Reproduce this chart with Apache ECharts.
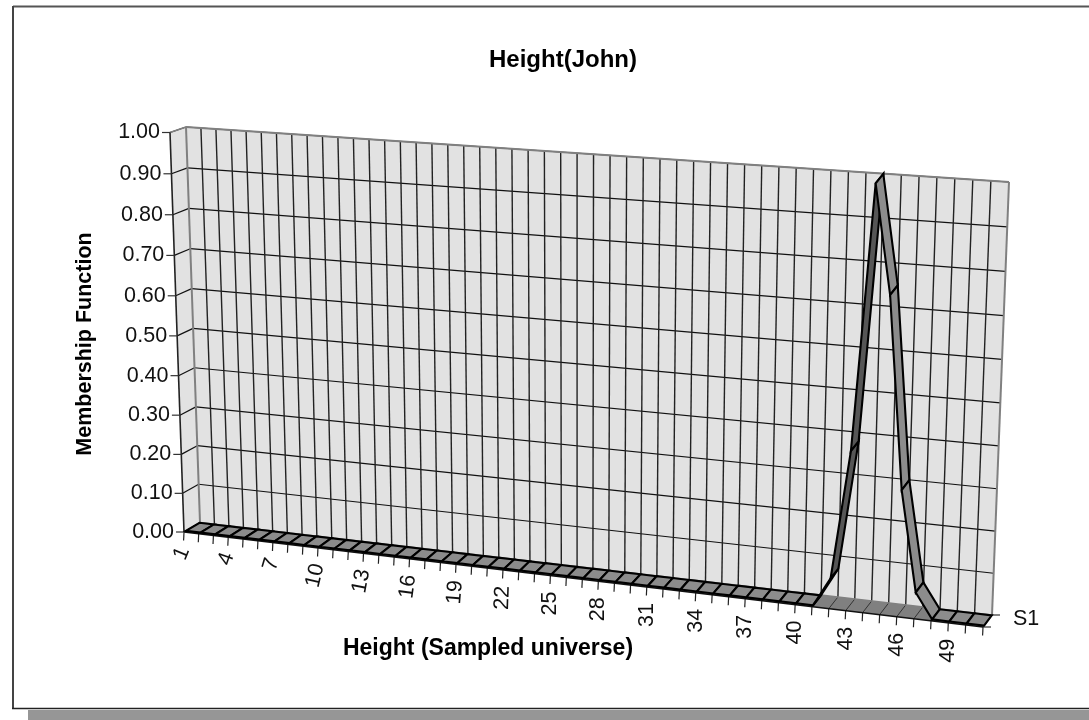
<!DOCTYPE html>
<html><head><meta charset="utf-8">
<style>html,body{margin:0;padding:0;background:#fff}#c{width:1089px;height:720px}</style>
<script src="https://cdn.jsdelivr.net/npm/echarts@6/dist/echarts.min.js"></script>
</head><body><div id="c"></div>
<script>
const categories = [];
for (let n = 1; n <= 51; n++) categories.push(n);
const labelledCategories = [1,4,7,10,13,16,19,22,25,28,31,34,37,40,43,46,49];
const membership = [0,0,0,0,0,0,0,0,0,0,0,0,0,0,0,0,0,0,0,0,0,0,0,0,0,0,0,0,0,0,0,0,0,0,0,0,0,0,0,0,0,
  0.07,0.38,1.00,0.75,0.30,0.06,0,0,0,0];
const yTicks = [0,0.1,0.2,0.3,0.4,0.5,0.6,0.7,0.8,0.9,1.0];
const seriesName = 'S1';
const chartTitle = 'Height(John)';
const xTitle = 'Height (Sampled universe)';
const yTitle = 'Membership Function';

const FONT = '"Liberation Sans", Arial, sans-serif';
// perspective of the box: unit square -> quad
function quadMap(q){
  const [x0,y0]=q[0],[x1,y1]=q[1],[x2,y2]=q[2],[x3,y3]=q[3];
  const sx=x0-x1+x2-x3, sy=y0-y1+y2-y3, dx1=x1-x2, dx2=x3-x2, dy1=y1-y2, dy2=y3-y2;
  const den=dx1*dy2-dx2*dy1, g=(sx*dy2-dx2*sy)/den, h=(dx1*sy-sx*dy1)/den;
  const a=x1-x0+g*x1, b=x3-x0+h*x3, d=y1-y0+g*y1, e=y3-y0+h*y3;
  return (u,v)=>{const w=g*u+h*v+1;return [(a*u+b*v+x0)/w,(d*u+e*v+y0)/w];};
}
const backPlane  = quadMap([[200,522.5],[992,615],[1009,182],[186,127]]);
const frontPlane = quadMap([[184,532],[983,627],[1000,194],[170,132.5]]);
const W=1089,H=720;
function proj(api,x,y,z){
  const p=api.coord([x,y]);
  const u=p[0]/W, v=1-p[1]/H;
  const f=frontPlane(u,v), b=backPlane(u,v);
  return [f[0]+(b[0]-f[0])*z, f[1]+(b[1]-f[1])*z];
}
const line=(a,b,stroke,lw)=>({type:'line',shape:{x1:a[0],y1:a[1],x2:b[0],y2:b[1]},style:{stroke,lineWidth:lw,fill:null},silent:true});
const poly=(pts,fill,stroke,lw)=>({type:'polygon',shape:{points:pts},style:{fill,stroke:stroke||fill,lineWidth:lw||0,lineJoin:'miter'},silent:true});
const xMin=categories[0], xMax=categories[categories.length-1];

function renderBox(params,api){
  const P=(x,y,z)=>proj(api,x,y,z), ch=[];
  ch.push(poly([P(xMin,0,1),P(xMax,0,1),P(xMax,1,1),P(xMin,1,1)],'#e2e2e2'));
  ch.push(poly([P(xMin,0,0),P(xMin,0,1),P(xMin,1,1),P(xMin,1,0)],'#e2e2e2'));
  ch.push(poly([P(xMin,0,0),P(xMax,0,0),P(xMax,0,1),P(xMin,0,1)],'#808080'));
  yTicks.forEach(t=>{
    if(t>0) ch.push(line(P(xMin,t,1),P(xMax,t,1),'#111',1.2));
    ch.push(line(P(xMin,t,0),P(xMin,t,1),'#111',1.2));
  });
  categories.forEach(c=>{
    if(c>xMin&&c<xMax) ch.push(line(P(c,0,1),P(c,1,1),'#222',1.4));
    ch.push(line(P(c,0,0),P(c,0,1),'#333',1));
    const a=P(c,0,0); ch.push(line(a,[a[0]-0.4,a[1]+8.5],'#222',1.2));
  });
  // outline
  ch.push(line(P(xMin,1,0),P(xMin,1,1),'#808080',1.6));
  ch.push(line(P(xMin,1,1),P(xMax,1,1),'#808080',1.8));
  ch.push(line(P(xMax,1,1),P(xMax,0,1),'#808080',2));
  ch.push(line(P(xMin,0,1),P(xMin,1,1),'#808080',2));
  ch.push(line(P(xMin,0,1),P(xMax,0,1),'#808080',1.5));
  ch.push(line(P(xMin,0,0),P(xMin,1,0),'#222',1.6));
  ch.push(line(P(xMin,0,0),P(xMax,0,0),'#111',1.6));
  ch.push(line(P(xMin,0,0),P(xMin,0,1),'#555',1));
  ch.push(line(P(xMax,0,0),P(xMax,0,1),'#333',1.2));
  yTicks.forEach(t=>{
    const a=P(xMin,t,0);
    ch.push(line(a,[a[0]-8,a[1]],'#333',1.2));
    ch.push({type:'text',style:{text:t.toFixed(2),x:a[0]-10,y:a[1],align:'right',verticalAlign:'middle',font:'21.5px '+FONT,fill:'#111'},silent:true});
  });
  const a=P(xMax,0,1), b=P(xMax,0,0);
  ch.push(line(a,[a[0]+8,a[1]],'#333',1.2));
  ch.push(line(b,[b[0]+8,b[1]],'#333',1.2));
  ch.push({type:'text',style:{text:seriesName,x:a[0]+21,y:a[1]+4,align:'left',verticalAlign:'middle',font:'21.5px '+FONT,fill:'#111'},silent:true});
  labelledCategories.forEach(c=>{
    const p=P(c,0,0), t=(c-xMin)/(xMax-xMin), deg=Math.min(90,68+48*t);
    ch.push({type:'text',x:p[0],y:p[1]+16,rotation:deg*Math.PI/180,
      style:{text:String(c),x:0,y:0,align:'right',verticalAlign:'middle',font:'21.5px '+FONT,fill:'#111'},silent:true});
  });
  return {type:'group',children:ch};
}
function renderRibbon(params,api){
  const x=api.value(0), y=api.value(1), i=params.dataIndex;
  if(i>=categories.length-1) return null;
  const x2=categories[i+1], y2=membership[i+1];
  const z0=0.12,z1=0.97;
  const pts=[proj(api,x,y,z0),proj(api,x2,y2,z0),proj(api,x2,y2,z1),proj(api,x,y,z1)];
  const fill = y2>y ? '#565656' : '#8c8c8c';
  return poly(pts,fill,'#000',2.1);
}
const chart=echarts.init(document.getElementById('c'),null,{renderer:'canvas',width:W,height:H});
chart.setOption({
  animation:false,
  backgroundColor:'#fff',
  title:{text:chartTitle,left:558,top:43,textAlign:'center',textStyle:{fontFamily:FONT,fontWeight:'bold',fontSize:24,color:'#000'}},
  grid:{left:0,right:0,top:0,bottom:0,containLabel:false},
  xAxis:{type:'value',min:xMin,max:xMax,show:false},
  yAxis:{type:'value',min:0,max:1,show:false},
  graphic:[
    {type:'rect',shape:{x:28,y:710,width:1061,height:10},style:{fill:'#969696'},silent:true},
    {type:'line',shape:{x1:13,y1:6.5,x2:1089,y2:6.5},style:{stroke:'#555',lineWidth:2},silent:true},
    {type:'line',shape:{x1:13,y1:6,x2:13,y2:709},style:{stroke:'#444',lineWidth:2},silent:true},
    {type:'line',shape:{x1:12,y1:708.5,x2:1089,y2:708.5},style:{stroke:'#222',lineWidth:1.6},silent:true},
    {type:'text',x:488,y:649,style:{text:xTitle,align:'center',verticalAlign:'middle',font:'bold 23px '+FONT,fill:'#000'},silent:true},
    {type:'text',x:85,y:344,rotation:Math.PI/2,style:{text:yTitle,align:'center',verticalAlign:'middle',font:'bold 21.5px '+FONT,fill:'#000'},silent:true}
  ],
  series:[
    {type:'custom',name:'box',coordinateSystem:'cartesian2d',data:[[xMin,0]],renderItem:renderBox,clip:false,silent:true,z:1},
    {type:'custom',name:seriesName,coordinateSystem:'cartesian2d',data:categories.map((c,i)=>[c,membership[i]]),renderItem:renderRibbon,clip:false,silent:true,z:2}
  ]
});
</script></body></html>
